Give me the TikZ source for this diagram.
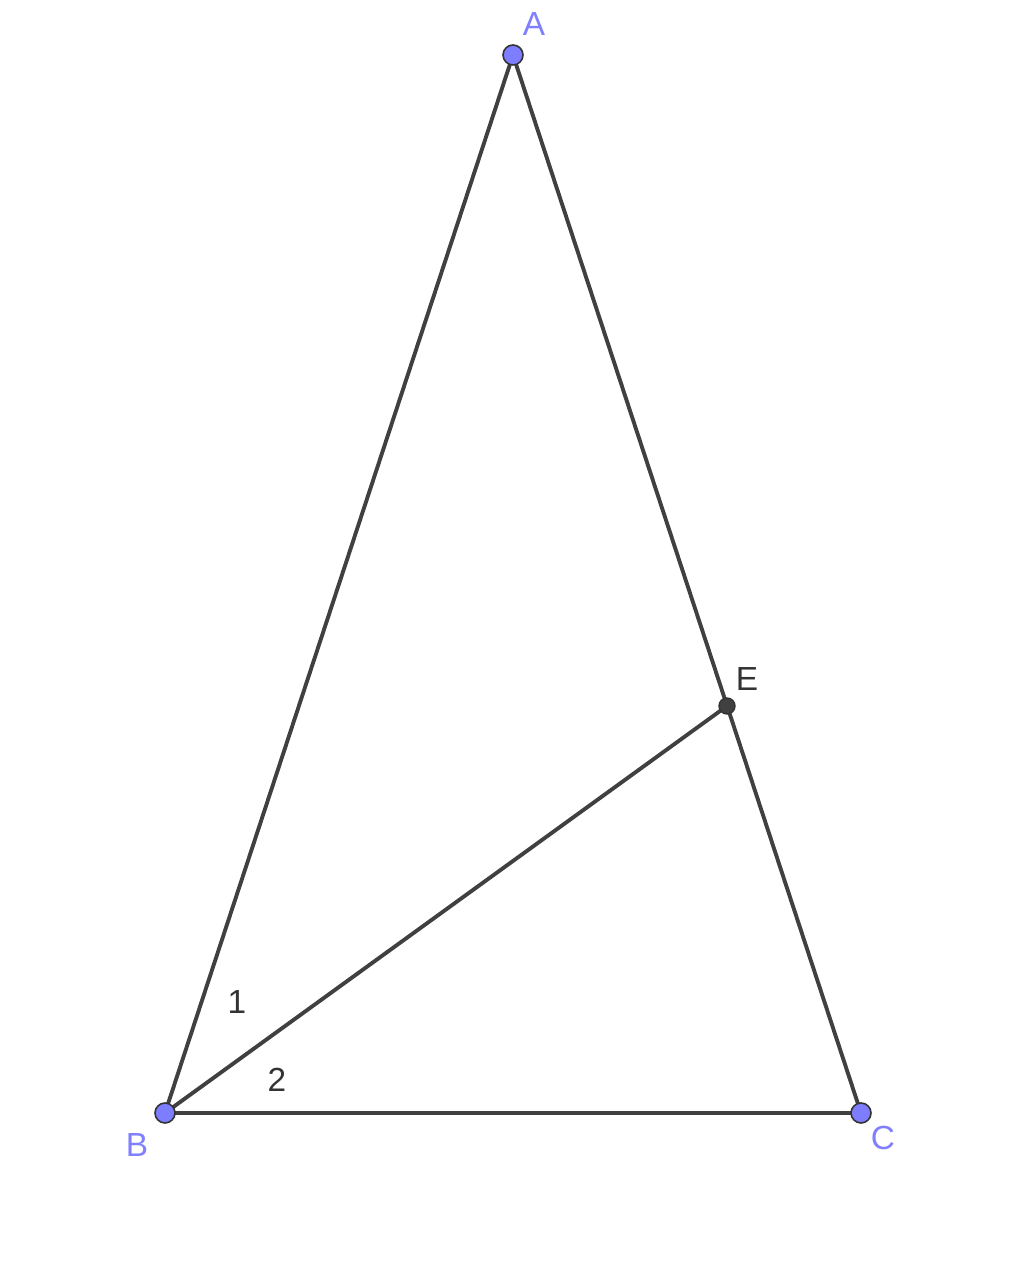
\documentclass[tikz,border=0pt]{standalone}
\usepackage{fontspec}
\setmainfont{Liberation Sans}
\definecolor{segcol}{HTML}{404040}
\definecolor{ptblue}{HTML}{7D7DFF}
\definecolor{ptdark}{HTML}{404040}
\definecolor{lblblue}{HTML}{8080FF}
\tikzset{
  seg/.style={draw=segcol, line width=2.2pt},
  freept/.style={circle, fill=ptblue, draw=black!80, line width=0.9pt, minimum size=0.4cm, inner sep=0pt},
  onpt/.style={circle, fill=ptdark, draw=black!80, line width=0.8pt, minimum size=0.32cm, inner sep=0pt},
  ptlabel/.style={text=lblblue, font=\fontsize{19}{19}\selectfont},
  anglabel/.style={text=black!80, font=\fontsize{19}{19}\selectfont}
}
\begin{document}
\begin{tikzpicture}
  \useasboundingbox (0,0) rectangle (20.48,25.42);
  %vertices
  \coordinate (A) at (10.26,24.32);
  \coordinate (B) at (3.30,3.16);
  \coordinate (C) at (17.22,3.16);
  \coordinate (E) at (14.54,11.30);
  %sides and segment BE
  \draw[seg] (A) -- (B) -- (C) -- cycle;
  \draw[seg] (B) -- (E);
  %points
  \node[freept] (pA) at (A) {};
  \node[freept] (pB) at (B) {};
  \node[freept] (pC) at (C) {};
  \node[onpt] (pE) at (E) {};
  %labels
  \node[ptlabel] (lA) at (10.68,24.94) {A};
  \node[ptlabel] (lB) at (2.74,2.52) {B};
  \node[ptlabel] (lC) at (17.66,2.66) {C};
  \node[anglabel] (lE) at (14.94,11.84) {E};
  \node[anglabel] (l1) at (4.74,5.38) {1};
  \node[anglabel] (l2) at (5.54,3.82) {2};
\end{tikzpicture}
\end{document}
